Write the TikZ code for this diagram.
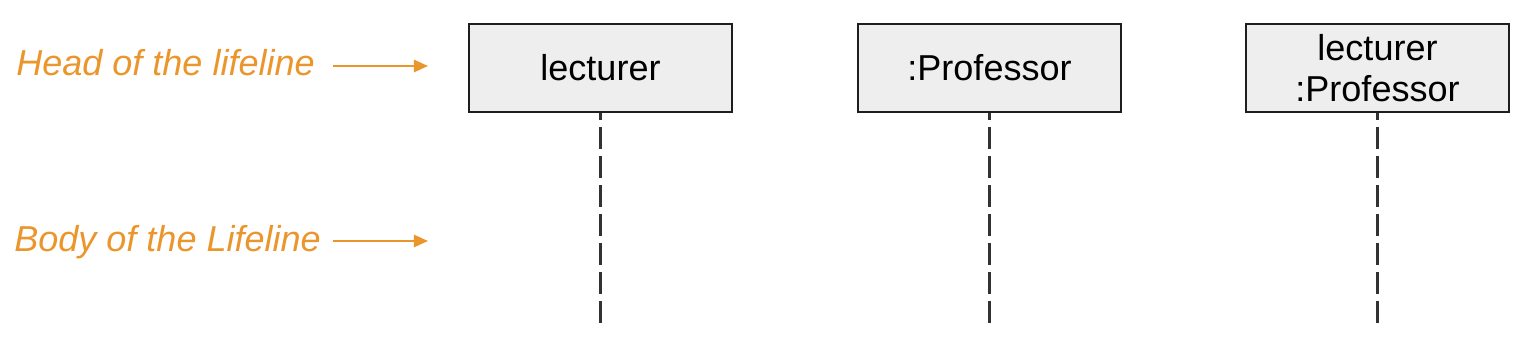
\documentclass[tikz,border=0pt]{standalone}
\usepackage{fontspec}
\setmainfont{Liberation Sans}
\usetikzlibrary{arrows.meta}

\definecolor{noteorange}{RGB}{235,150,45}
\definecolor{headfill}{RGB}{238,238,238}
\definecolor{headline}{RGB}{30,30,30}
\definecolor{lifegray}{RGB}{50,50,50}

\begin{document}
\begin{tikzpicture}[x=0.02cm, y=0.02cm,
  headbox/.style={draw=headline, line width=1.5pt, fill=headfill,
    minimum width=5.26cm, minimum height=1.76cm, inner sep=0pt,
    align=center, font=\fontsize{20.5}{23}\selectfont},
  lifeline/.style={draw=lifegray, line width=1.3pt,
    dash pattern=on 0.44cm off 0.14cm, dash phase=0.3cm},
  note/.style={text=noteorange, font=\fontsize{20.5}{24}\selectfont\itshape,
    inner sep=0pt, anchor=west},
  notearrow/.style={draw=noteorange, line width=1.1pt,
    -{Triangle[length=8pt, width=7pt]}}]
  \useasboundingbox (0,0) rectangle (1522,358);

  % heads of the three lifelines
  \node[headbox] (lect) at (600.5,290) {lecturer};
  \node[headbox] (prof) at (989.5,290) {:Professor};
  \node[headbox] (lectprof) at (1377.5,290) {lecturer\\:Professor};

  % bodies
  \coordinate (lectend) at (600.5,30);
  \coordinate (profend) at (989.5,30);
  \coordinate (lectprofend) at (1377.5,30);
  \draw[lifeline] (lect.south) -- (lectend);
  \draw[lifeline] (prof.south) -- (profend);
  \draw[lifeline] (lectprof.south) -- (lectprofend);

  % annotations
  \node[note] (headnote) at (16,295) {Head of the lifeline};
  \node[note] (bodynote) at (14,116) {Body of the Lifeline};
  \coordinate (headfrom) at (333,292);
  \coordinate (headto) at (428,292);
  \coordinate (bodyfrom) at (333,117);
  \coordinate (bodyto) at (428,117);
  \draw[notearrow] (headfrom) -- (headto);
  \draw[notearrow] (bodyfrom) -- (bodyto);
\end{tikzpicture}
\end{document}
